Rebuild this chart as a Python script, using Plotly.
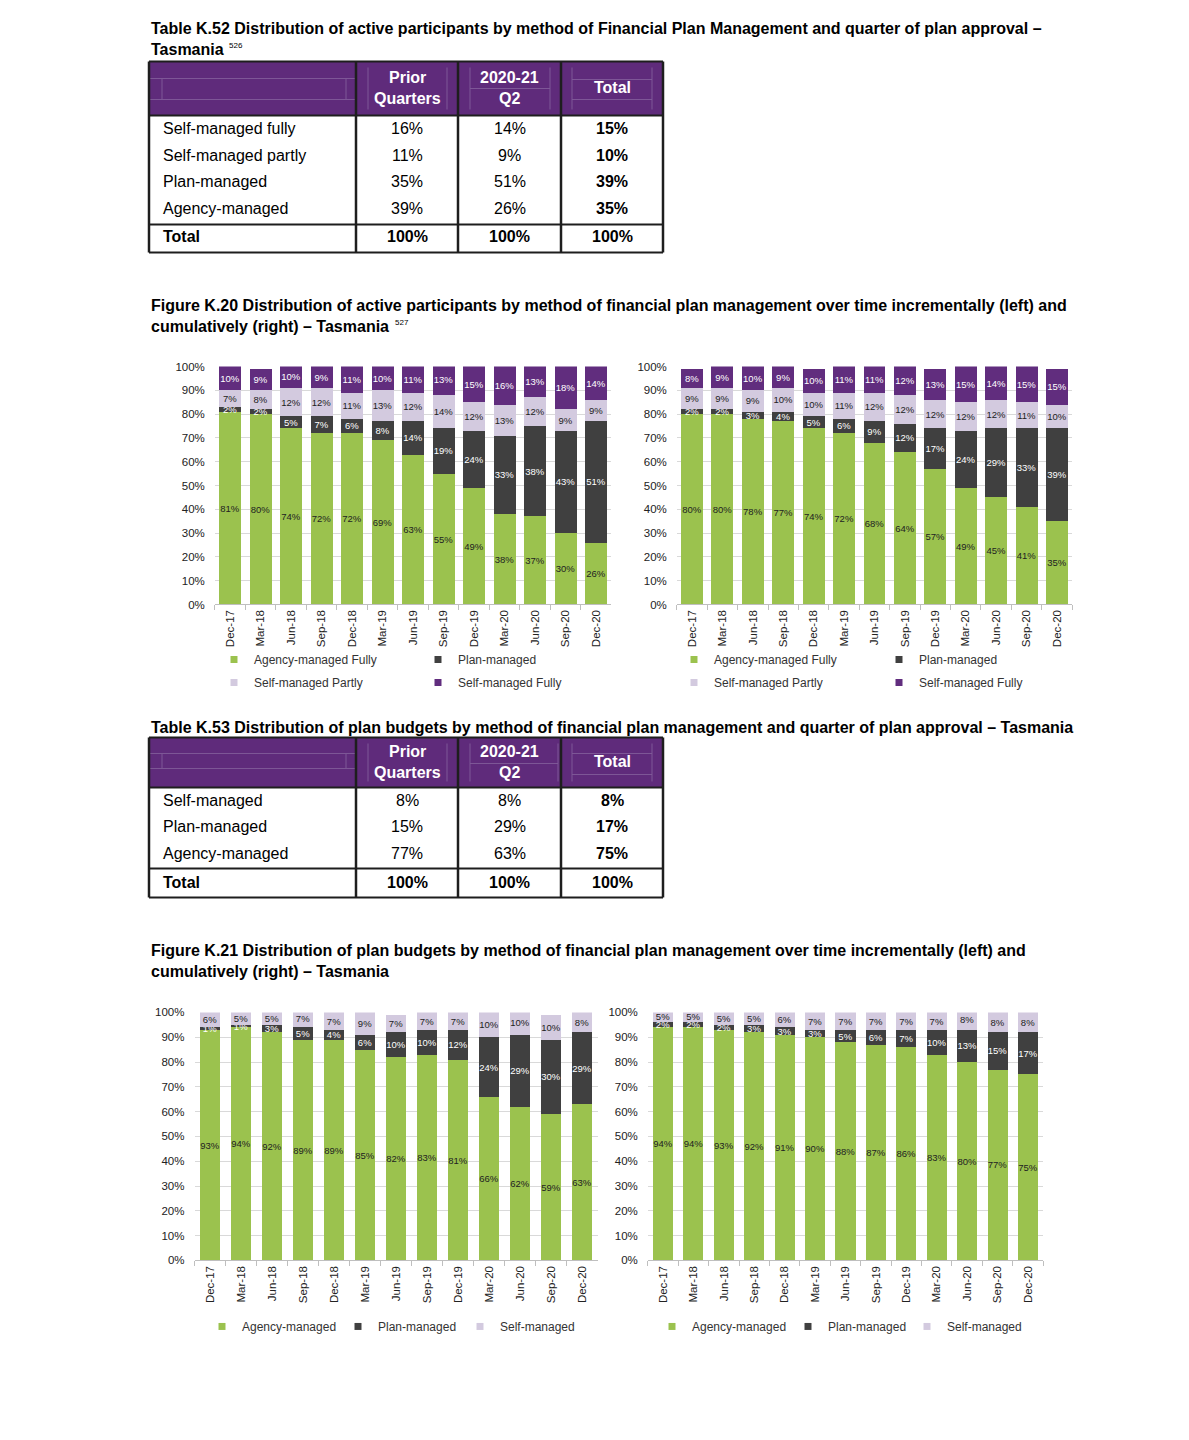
import plotly.graph_objects as go

W, H = 1189, 1440

# ---------------- data ----------------
quarters = ["Dec-17", "Mar-18", "Jun-18", "Sep-18", "Dec-18", "Mar-19", "Jun-19",
            "Sep-19", "Dec-19", "Mar-20", "Jun-20", "Sep-20", "Dec-20"]

# Figure K.20 incremental (left)
k20_inc_agency = [81, 80, 74, 72, 72, 69, 63, 55, 49, 38, 37, 30, 26]
k20_inc_plan = [2, 2, 5, 7, 6, 8, 14, 19, 24, 33, 38, 43, 51]
k20_inc_partly = [7, 8, 12, 12, 11, 13, 12, 14, 12, 13, 12, 9, 9]
k20_inc_fully = [10, 9, 10, 9, 11, 10, 11, 13, 15, 16, 13, 18, 14]

# Figure K.20 cumulative (right)
k20_cum_agency = [80, 80, 78, 77, 74, 72, 68, 64, 57, 49, 45, 41, 35]
k20_cum_plan = [2, 2, 3, 4, 5, 6, 9, 12, 17, 24, 29, 33, 39]
k20_cum_partly = [9, 9, 9, 10, 10, 11, 12, 12, 12, 12, 12, 11, 10]
k20_cum_fully = [8, 9, 10, 9, 10, 11, 11, 12, 13, 15, 14, 15, 15]

# Figure K.21 incremental (left)
k21_inc_agency = [93, 94, 92, 89, 89, 85, 82, 83, 81, 66, 62, 59, 63]
k21_inc_plan = [1, 1, 3, 5, 4, 6, 10, 10, 12, 24, 29, 30, 29]
k21_inc_self = [6, 5, 5, 7, 7, 9, 7, 7, 7, 10, 10, 10, 8]

# Figure K.21 cumulative (right)
k21_cum_agency = [94, 94, 93, 92, 91, 90, 88, 87, 86, 83, 80, 77, 75]
k21_cum_plan = [2, 2, 2, 3, 3, 3, 5, 6, 7, 10, 13, 15, 17]
k21_cum_self = [5, 5, 5, 5, 6, 7, 7, 7, 7, 7, 8, 8, 8]

# Table K.52
k52_header = [["Prior", "Quarters"], ["2020-21", "Q2"], ["Total"]]
k52_rows = ["Self-managed fully", "Self-managed partly", "Plan-managed", "Agency-managed"]
k52_prior = ["16%", "11%", "35%", "39%"]
k52_q2 = ["14%", "9%", "51%", "26%"]
k52_total = ["15%", "10%", "39%", "35%"]
k52_total_row = ["Total", "100%", "100%", "100%"]

# Table K.53
k53_header = [["Prior", "Quarters"], ["2020-21", "Q2"], ["Total"]]
k53_rows = ["Self-managed", "Plan-managed", "Agency-managed"]
k53_prior = ["8%", "15%", "77%"]
k53_q2 = ["8%", "29%", "63%"]
k53_total = ["8%", "17%", "75%"]
k53_total_row = ["Total", "100%", "100%", "100%"]

# ---------------- styling ----------------
FONT = "Liberation Sans, Arial, sans-serif"
GREEN = "#9BC24E"
DARK = "#404040"
LAV = "#D3CADF"
PURPLE = "#612D7E"
HDR = "#5F2B7B"
HDR_LINE = "#7F5898"
BORDER = "#1E1E1E"
TXT = "#222222"


def X(px):
    return px / W


def Y(py):
    # page pixel (measured on the reference) -> paper fraction
    return 1 - ((py - 6.5) / 0.9917) / H


fig = go.Figure()
shapes = []
annotations = []


def text(x, y, s, size=16, color="black", anchor="left", bold=False):
    annotations.append(dict(
        x=X(x), y=Y(y), xref="paper", yref="paper", showarrow=False,
        xanchor=anchor, yanchor="middle", align=anchor,
        text=("<b>%s</b>" % s) if bold else s,
        font=dict(family=FONT, size=size, color=color)))


def line(x0, y0, x1, y1, color=BORDER, width=2):
    shapes.append(dict(type="line", xref="paper", yref="paper",
                       x0=X(x0), y0=Y(y0), x1=X(x1), y1=Y(y1),
                       line=dict(color=color, width=width)))


def draw_table(top, hdr_bot, total_top, bottom, header, rows, prior, q2, total,
               total_row, row_ys, total_y, hdr_y, inner):
    cols = [149, 356, 458, 561, 663]
    shapes.append(dict(type="rect", xref="paper", yref="paper", layer="below",
                       x0=X(cols[0]), x1=X(cols[-1]), y0=Y(hdr_bot), y1=Y(top),
                       fillcolor=HDR, line=dict(width=0)))
    for seg in inner:
        line(*seg, color=HDR_LINE, width=1)
    line(cols[0], top, cols[-1], top, width=2)
    line(cols[0], bottom, cols[-1], bottom, width=2)
    line(cols[0], hdr_bot, cols[-1], hdr_bot, width=2)
    line(cols[0], total_top, cols[-1], total_top, width=2)
    for c in cols:
        line(c, top, c, bottom, width=2.5)
    centers = [(cols[i] + cols[i + 1]) / 2 for i in range(1, 4)]
    for cx, lines_ in zip(centers, header):
        if len(lines_) == 2:
            text(cx, hdr_y[0], lines_[0], color="white", anchor="center", bold=True)
            text(cx, hdr_y[1], lines_[1], color="white", anchor="center", bold=True)
        else:
            text(cx, (hdr_y[0] + hdr_y[1]) / 2, lines_[0], color="white", anchor="center", bold=True)
    for i, ry in enumerate(row_ys):
        text(161, ry, rows[i])
        text(centers[0], ry, prior[i], anchor="center")
        text(centers[1], ry, q2[i], anchor="center")
        text(centers[2], ry, total[i], anchor="center", bold=True)
    text(161, total_y, total_row[0], bold=True)
    for cx, v in zip(centers, total_row[1:]):
        text(cx, total_y, v, anchor="center", bold=True)


# ---------------- titles ----------------
TS = 16
text(149, 29, "Table K.52 Distribution of active participants by method of Financial Plan Management and quarter of plan approval –", size=TS, bold=True)
text(149, 50, "Tasmania", size=TS, bold=True)
text(227, 46, "526", size=8)
text(149, 306, "Figure K.20 Distribution of active participants by method of financial plan management over time incrementally (left) and", size=TS, bold=True)
text(149, 327, "cumulatively (right) – Tasmania", size=TS, bold=True)
text(393, 323, "527", size=8)
text(149, 728, "Table K.53 Distribution of plan budgets by method of financial plan management and quarter of plan approval – Tasmania", size=TS, bold=True)
text(149, 951, "Figure K.21 Distribution of plan budgets by method of financial plan management over time incrementally (left) and", size=TS, bold=True)
text(149, 972, "cumulatively (right) – Tasmania", size=TS, bold=True)

# ---------------- tables ----------------
draw_table(62, 116, 225, 253, k52_header, k52_rows, k52_prior, k52_q2, k52_total,
           k52_total_row, [129, 156, 182, 209], 237, (78, 99),
           inner=[(150, 79, 355, 79), (150, 100, 355, 100), (162, 79, 162, 100), (346, 79, 346, 100),
                  (368, 68, 368, 110), (447, 68, 447, 110),
                  (470, 68, 470, 110), (550, 68, 550, 110), (470, 89, 550, 89),
                  (572, 68, 572, 110), (652, 68, 652, 110), (572, 80, 652, 80), (572, 100, 652, 100)])
draw_table(738, 788, 869, 898, k53_header, k53_rows, k53_prior, k53_q2, k53_total,
           k53_total_row, [801, 827, 854], 883, (752, 773),
           inner=[(150, 754, 355, 754), (150, 769, 355, 769), (162, 754, 162, 769), (346, 754, 346, 769),
                  (368, 744, 368, 782), (447, 744, 447, 782),
                  (470, 744, 470, 782), (558, 744, 558, 782), (470, 764, 558, 764),
                  (572, 744, 572, 782), (652, 744, 652, 782), (572, 754, 652, 754), (572, 775, 652, 775)])

# ---------------- charts ----------------
charts = [
    dict(n="", x0=214.8, x1=611.3, top=367, bot=605, width=0.72,
         series=[(k20_inc_agency, "Agency-managed Fully", GREEN, TXT),
                 (k20_inc_plan, "Plan-managed", DARK, "white"),
                 (k20_inc_partly, "Self-managed Partly", LAV, TXT),
                 (k20_inc_fully, "Self-managed Fully", PURPLE, "white")],
         legend_pos=[(252, 660), (456, 660), (252, 683), (456, 683)]),
    dict(n="2", x0=676.8, x1=1072.2, top=367, bot=605, width=0.72,
         series=[(k20_cum_agency, "Agency-managed Fully", GREEN, TXT),
                 (k20_cum_plan, "Plan-managed", DARK, "white"),
                 (k20_cum_partly, "Self-managed Partly", LAV, TXT),
                 (k20_cum_fully, "Self-managed Fully", PURPLE, "white")],
         legend_pos=[(712, 660), (917, 660), (712, 683), (917, 683)]),
    dict(n="3", x0=194.5, x1=597.5, top=1013, bot=1261, width=0.66,
         series=[(k21_inc_agency, "Agency-managed", GREEN, TXT),
                 (k21_inc_plan, "Plan-managed", DARK, "white"),
                 (k21_inc_self, "Self-managed", LAV, TXT)],
         legend_pos=[(240, 1327), (376, 1327), (498, 1327)]),
    dict(n="4", x0=647.8, x1=1043.2, top=1013, bot=1261, width=0.66,
         series=[(k21_cum_agency, "Agency-managed", GREEN, TXT),
                 (k21_cum_plan, "Plan-managed", DARK, "white"),
                 (k21_cum_self, "Self-managed", LAV, TXT)],
         legend_pos=[(690, 1327), (826, 1327), (945, 1327)]),
]

layout_axes = {}
legends = {}
leg_idx = 0
for ch in charts:
    n = ch["n"]
    xa, ya = "x" + n, "y" + n
    for vals, name, color, tcolor in ch["series"]:
        fig.add_trace(go.Bar(
            x=quarters, y=vals, name=name, xaxis=xa, yaxis=ya,
            width=ch["width"], marker=dict(color=color, line=dict(width=0)),
            text=["%d%%" % v for v in vals], textposition="inside",
            insidetextanchor="middle", textangle=0,
            textfont=dict(family=FONT, size=9.5, color=tcolor),
            showlegend=False, hoverinfo="skip"))
    for (vals, name, color, tcolor), (lx, ly) in zip(ch["series"], ch["legend_pos"]):
        leg_idx += 1
        lname = "legend" if leg_idx == 1 else "legend%d" % leg_idx
        fig.add_trace(go.Scatter(
            x=[None], y=[None], xaxis=xa, yaxis=ya, mode="markers", name=name,
            marker=dict(symbol="square", size=7, color=color),
            legend=lname, showlegend=True))
        legends[lname] = dict(x=X(lx - 38), y=Y(ly), xanchor="left", yanchor="middle",
                              orientation="h", bgcolor="rgba(0,0,0,0)",
                              font=dict(family=FONT, size=12, color="#333333"),
                              borderwidth=0)
    layout_axes["xaxis" + n] = dict(
        domain=[X(ch["x0"]), X(ch["x1"])], anchor=ya, type="category",
        tickangle=-90, tickfont=dict(family=FONT, size=11.5, color=TXT),
        ticks="outside", tickson="boundaries", ticklen=5, tickcolor="#BFBFBF",
        showline=True, linecolor="#BFBFBF", linewidth=1, showgrid=False,
        fixedrange=True)
    layout_axes["yaxis" + n] = dict(
        domain=[Y(ch["bot"]), Y(ch["top"])], anchor=xa, range=[0, 100], dtick=10,
        ticksuffix="%", tickfont=dict(family=FONT, size=11.5, color=TXT),
        showgrid=True, gridcolor="#D9D9D9", gridwidth=1, zeroline=False,
        showline=False, ticks="", ticklabelstandoff=9, fixedrange=True)

fig.update_layout(
    width=W, height=H, margin=dict(l=0, r=0, t=0, b=0),
    paper_bgcolor="white", plot_bgcolor="white",
    barmode="stack", showlegend=True,
    uniformtext=dict(mode="show", minsize=9.5),
    shapes=shapes, annotations=annotations,
    font=dict(family=FONT, color=TXT),
    **layout_axes, **legends)

POST = ("document.documentElement.style.margin='0px';"
        "document.body.style.margin='0px';document.body.style.padding='0px';"
        "document.body.style.overflow='hidden';"
        "var gd=document.getElementById('{plot_id}');"
        "gd.style.position='absolute';gd.style.top='0px';gd.style.left='0px';")

fig.write_html("out.html", config={"displayModeBar": False}, post_script=POST)
